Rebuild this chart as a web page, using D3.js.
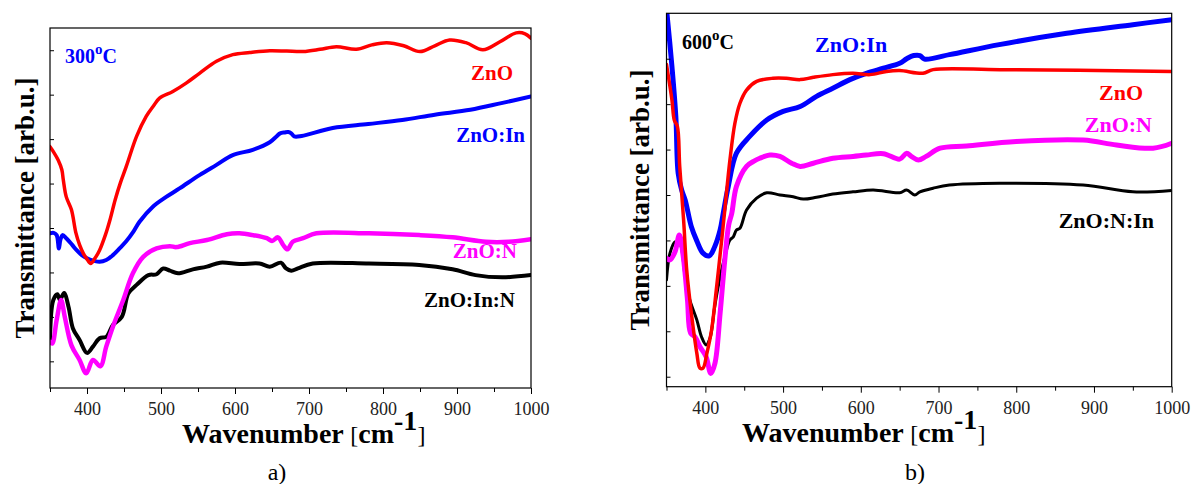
<!DOCTYPE html>
<html>
<head>
<meta charset="utf-8">
<script src="https://cdn.jsdelivr.net/npm/d3@7"></script>
<style>
  body { margin: 0; background: #fff; }
  svg { display: block; font-family: "Times New Roman", "Liberation Serif", serif; }
</style>
</head>
<body>
<svg id="chart" width="1198" height="484"></svg>
<script>
// x ticks shared by both panels
const majorTicks = [400, 500, 600, 700, 800, 900, 1000];
const minorTicks = [350, 450, 550, 650, 750, 850, 950];
const yTicks = [0, 1, 2, 3, 4, 5, 6, 7];

// panel a) 300 C  -- [wavenumber, transmittance (arb.)]
const a_ZnO = [[350,4.83],[354.5,4.72],[361,4.53],[366,4.31],[368,4.08],[372,3.70],[379,3.41],[385,2.89],[390,2.62],[395,2.43],[400,2.30],[405,2.20],[410,2.30],[417,2.50],[425,2.85],[431,3.18],[438,3.63],[445,4.01],[453,4.38],[467,5.06],[480,5.51],[490,5.75],[498,5.92],[516,6.07],[534,6.26],[552,6.48],[575,6.75],[597,6.90],[620,6.95],[647,6.99],[670,6.98],[692,6.97],[715,7.02],[737,7.08],[764,7.02],[785,7.12],[805,7.17],[828,7.10],[850,6.97],[870,7.10],[890,7.23],[912,7.17],[935,7.01],[958,7.19],[980,7.39],[992,7.37],[1000,7.27]];
const a_ZnOIn = [[350,2.88],[355,2.89],[359,2.84],[362,2.54],[364,2.73],[367,2.84],[372,2.77],[380,2.62],[386,2.50],[393,2.39],[400,2.32],[410,2.26],[417,2.24],[426,2.28],[435,2.39],[444,2.54],[453,2.70],[462,2.90],[471,3.14],[489,3.48],[507,3.70],[525,3.89],[552,4.19],[575,4.42],[597,4.64],[624,4.76],[647,4.93],[656,5.06],[661,5.13],[667,5.15],[672,5.16],[676,5.13],[680,5.06],[690,5.07],[732,5.25],[780,5.34],[826,5.43],[870,5.55],[918,5.66],[960,5.81],[1000,5.96]];
const a_ZnON = [[350,0.44],[353,0.40],[359,0.93],[365,1.38],[370,1.00],[379,0.36],[390,0.03],[399,-0.27],[408,0.03],[418,-0.11],[426,0.33],[435,0.78],[449,1.38],[462,1.98],[476,2.35],[494,2.54],[512,2.59],[521,2.57],[539,2.66],[562,2.73],[589,2.86],[606,2.88],[624,2.84],[643,2.77],[650,2.71],[658,2.79],[665,2.62],[671,2.52],[678,2.69],[692,2.77],[710,2.88],[781,2.88],[849,2.84],[894,2.79],[939,2.69],[970,2.69],[1000,2.75]];
const a_ZnOInN = [[350,0.48],[354.5,1.38],[360,1.51],[363.5,1.38],[369,1.54],[375,1.23],[381,0.74],[390,0.48],[400,0.19],[408,0.33],[417,0.52],[426,0.55],[435,0.82],[447,1.00],[456,1.53],[467,1.72],[483,1.94],[494,1.96],[503,2.09],[512,2.04],[523,1.98],[543,2.07],[562,2.13],[580,2.22],[606,2.19],[633,2.20],[647,2.13],[662,2.22],[669,2.09],[676,2.04],[685,2.09],[705,2.20],[781,2.20],[849,2.17],[894,2.07],[925,1.94],[961,1.89],[1000,1.94]];

// panel b) 600 C
const b_ZnO = [[350,6.87],[357,6.09],[360,5.65],[364,5.51],[367,4.63],[372,3.45],[376,2.35],[382,1.40],[389,0.52],[393,0.19],[397,0.19],[402,0.52],[408,1.03],[414.5,1.98],[421,3.01],[425,3.67],[431.6,4.77],[438,5.58],[444.5,6.02],[453,6.31],[466,6.50],[487,6.57],[504,6.57],[522,6.54],[539,6.59],[564,6.65],[590,6.68],[612,6.65],[633,6.72],[650,6.74],[680,6.68],[693,6.76],[779,6.76],[1000,6.72]];
const b_ZnOIn = [[350,8.10],[357,6.83],[362,5.73],[365,4.48],[369.5,4.11],[374,3.89],[382,3.30],[389,2.99],[397,2.72],[405,2.66],[412,2.86],[419,3.23],[423,3.60],[429.5,4.19],[440,4.92],[457,5.29],[479,5.65],[500,5.84],[522,5.95],[543,6.17],[564,6.35],[586,6.54],[607,6.68],[629,6.79],[650,6.90],[659,7.00],[668,7.07],[676,7.07],[682,6.99],[714,7.09],[778,7.31],[865,7.56],[950,7.75],[1000,7.86]];
const b_ZnON = [[350,2.61],[354.5,2.57],[361,2.75],[366.5,3.12],[371.6,2.64],[377,1.69],[381,0.96],[386.6,0.88],[393,0.66],[401,0.44],[407,0.07],[412.4,0.30],[419,1.40],[425,2.57],[430,3.34],[434,3.60],[440,4.19],[453,4.63],[462,4.74],[470,4.81],[483,4.88],[496,4.85],[511,4.70],[522,4.63],[539,4.70],[564,4.81],[590,4.85],[607,4.88],[629,4.91],[650,4.79],[659,4.92],[665,4.85],[674,4.77],[684,4.85],[702,5.03],[736,5.08],[800,5.18],[886,5.21],[929,5.10],[976,5.03],[1000,5.14]];
const b_ZnONIn = [[350,2.13],[354.5,2.72],[361,2.97],[367,2.94],[374,2.20],[380,1.69],[389,1.25],[395,0.88],[401,0.70],[406,0.85],[412,1.54],[419,2.20],[425,2.64],[431.6,3.01],[436,3.08],[440,3.23],[444.5,3.27],[453,3.67],[466,3.93],[479,4.05],[496,4.00],[513,3.96],[526,3.91],[543,3.95],[564,4.02],[590,4.07],[616,4.11],[650,4.05],[659,4.11],[669.5,4.00],[676,4.07],[693,4.15],[714,4.22],[778.5,4.26],[886,4.22],[950,4.07],[1000,4.10]];

const svg = d3.select("#chart");

const panels = [
  {
    id: "a", left: 50, right: 531, top: 28, bottom: 388, yDomain: [-0.6, 7.5],
    temp: "300", tempColor: "#0000ff", tempX: 65, tempY: 63,
    yLabelX: 34, xLabelX: 182, xLabelY: 443, caption: "a)", captionX: 277, labelSize: 21,
    series: [
      { data: a_ZnOInN, color: "#000000", width: 4 },
      { data: a_ZnON, color: "#ff00ff", width: 4.5 },
      { data: a_ZnOIn, color: "#0000ff", width: 4 },
      { data: a_ZnO, color: "#ff0000", width: 3.5 }
    ],
    labels: [
      { text: "ZnO", color: "#ff0000", x: 513, y: 80 },
      { text: "ZnO:In", color: "#0000ff", x: 525, y: 142 },
      { text: "ZnO:N", color: "#ff00ff", x: 517, y: 258 },
      { text: "ZnO:In:N", color: "#000000", x: 515, y: 307 }
    ]
  },
  {
    id: "b", left: 666.5, right: 1171.7, top: 13.3, bottom: 386.7, yDomain: [-0.22, 8.0],
    temp: "600", tempColor: "#000000", tempX: 682, tempY: 49,
    yLabelX: 649, xLabelX: 742, xLabelY: 442, caption: "b)", captionX: 915, labelSize: 22,
    series: [
      { data: b_ZnONIn, color: "#000000", width: 3 },
      { data: b_ZnON, color: "#ff00ff", width: 5 },
      { data: b_ZnOIn, color: "#0000ff", width: 5 },
      { data: b_ZnO, color: "#ff0000", width: 3.5 }
    ],
    labels: [
      { text: "ZnO:In", color: "#0000ff", x: 815, y: 52, anchor: "start" },
      { text: "ZnO", color: "#ff0000", x: 1143, y: 100 },
      { text: "ZnO:N", color: "#ff00ff", x: 1152, y: 132 },
      { text: "ZnO:N:In", color: "#000000", x: 1154, y: 228 }
    ]
  }
];

panels.forEach(drawPanel);

function drawPanel(p) {
  const x = d3.scaleLinear().domain([350, 1000]).range([p.left, p.right]);
  const y = d3.scaleLinear().domain(p.yDomain).range([p.bottom, p.top]);
  const g = svg.append("g").attr("class", "panel-" + p.id);

  g.append("clipPath").attr("id", "clip-" + p.id)
    .append("rect")
    .attr("x", p.left).attr("y", p.top)
    .attr("width", p.right - p.left).attr("height", p.bottom - p.top);

  // curves
  const line = d3.line()
    .x(d => x(d[0]))
    .y(d => y(d[1]))
    .curve(d3.curveCatmullRom.alpha(0.5));

  g.append("g").attr("clip-path", `url(#clip-${p.id})`)
    .selectAll("path").data(p.series).enter().append("path")
    .attr("d", d => line(d.data))
    .attr("fill", "none")
    .attr("stroke", d => d.color)
    .attr("stroke-width", d => d.width)
    .attr("stroke-linejoin", "round")
    .attr("stroke-linecap", "round");

  // x axis: major + minor ticks
  const xAxis = g.append("g").attr("transform", `translate(0,${p.bottom})`)
    .call(d3.axisBottom(x).tickValues(majorTicks).tickSize(6).tickSizeOuter(0).tickFormat(d3.format("d")));
  xAxis.select(".domain").remove();
  xAxis.selectAll("text")
    .attr("font-size", 18).attr("font-family", "'Times New Roman', 'Liberation Serif', serif")
    .attr("fill", "#222").attr("dy", null).attr("y", 27);

  const xMinor = g.append("g").attr("transform", `translate(0,${p.bottom})`)
    .call(d3.axisBottom(x).tickValues(minorTicks).tickSize(4).tickSizeOuter(0).tickFormat(""));
  xMinor.select(".domain").remove();

  // y ticks, inside, no labels
  const yAxis = g.append("g").attr("transform", `translate(${p.left},0)`)
    .call(d3.axisRight(y).tickValues(yTicks).tickSize(4).tickSizeOuter(0).tickFormat(""));
  yAxis.select(".domain").remove();

  // frame
  g.append("rect")
    .attr("x", p.left).attr("y", p.top)
    .attr("width", p.right - p.left).attr("height", p.bottom - p.top)
    .attr("fill", "none").attr("stroke", "#000").attr("stroke-width", 1.2);

  // temperature tag
  const t = g.append("text")
    .attr("x", p.tempX).attr("y", p.tempY)
    .attr("font-size", 20).attr("font-weight", "bold").attr("fill", p.tempColor);
  t.append("tspan").text(p.temp);
  t.append("tspan").attr("font-size", 15).attr("dy", -9).text("o");
  t.append("tspan").attr("dy", 9).text("C");

  // series labels
  g.selectAll(".series-label").data(p.labels).enter().append("text")
    .attr("class", "series-label")
    .attr("x", d => d.x).attr("y", d => d.y)
    .attr("text-anchor", d => d.anchor || "end")
    .attr("font-size", p.labelSize).attr("font-weight", "bold")
    .attr("fill", d => d.color)
    .text(d => d.text);

  // y label
  g.append("text")
    .attr("transform", `translate(${p.yLabelX},${(p.top + p.bottom) / 2}) rotate(-90)`)
    .attr("text-anchor", "middle")
    .attr("font-size", 27).attr("font-weight", "bold")
    .text("Transmittance [arb.u.]");

  // x label
  const xl = g.append("text")
    .attr("x", p.xLabelX).attr("y", p.xLabelY)
    .attr("font-size", 28).attr("font-weight", "bold");
  xl.append("tspan").text("Wavenumber ");
  xl.append("tspan").attr("font-weight", "normal").attr("font-size", 24).text("[");
  xl.append("tspan").text("cm");
  xl.append("tspan").attr("font-size", 28).attr("dy", -13).text("-1");
  xl.append("tspan").attr("font-weight", "normal").attr("font-size", 24).attr("dy", 13).text("]");

  // caption
  g.append("text")
    .attr("x", p.captionX).attr("y", 480)
    .attr("text-anchor", "middle")
    .attr("font-size", 24)
    .text(p.caption);
}
</script>
</body>
</html>
